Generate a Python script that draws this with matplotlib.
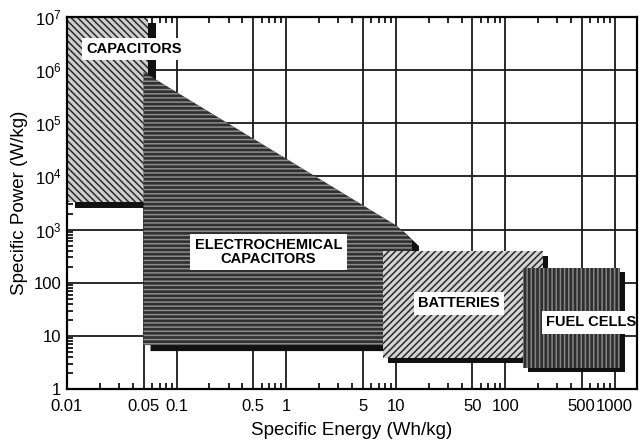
import numpy as np
import matplotlib
matplotlib.use("Agg")
import matplotlib.pyplot as plt
from matplotlib.patches import Polygon
from matplotlib.transforms import ScaledTranslation
from matplotlib.ticker import FixedLocator, LogLocator, NullFormatter

plt.rcParams['font.family'] = ['Liberation Sans', 'DejaVu Sans']
plt.rcParams['hatch.linewidth'] = 1.1

# regions of the Ragone plot (specific energy in Wh/kg, specific power in W/kg)
cap_energy = [0.01, 0.055]
cap_power = [3300, 1e7]

ec_energy = [0.05, 10.3, 14.1, 14.1, 0.05]
ec_power = [9.2e5, 1170, 635, 6.7, 6.7]

bat_energy = [7.7, 222]
bat_power = [3.8, 395]

fc_energy = [146, 1120]
fc_power = [2.5, 189]

x_ticks = [0.01, 0.05, 0.1, 0.5, 1, 5, 10, 50, 100, 500, 1000]
x_labels = ["0.01", "0.05", "0.1", "0.5", "1", "5", "10", "50", "100", "500", "1000"]
y_ticks = [1, 10, 100, 1e3, 1e4, 1e5, 1e6, 1e7]
y_labels = ["1", "10", "100", r"$\mathregular{10^3}$", r"$\mathregular{10^4}$",
            r"$\mathregular{10^5}$", r"$\mathregular{10^6}$", r"$\mathregular{10^7}$"]

# label text and where it sits (energy, power)
labels = ["CAPACITORS", "ELECTROCHEMICAL\nCAPACITORS", "BATTERIES", "FUEL CELLS"]
label_x = [0.041, 0.69, 38, 615]
label_y = [2.5e6, 380, 41, 18]

fig = plt.figure(figsize=(6.41, 4.41), dpi=100)
ax = fig.add_axes([0.1045, 0.1179, 0.8893, 0.8436])
ax.set_xscale('log')
ax.set_yscale('log')
ax.set_xlim(0.01, 1600)
ax.set_ylim(1, 1e7)

# grid drawn underneath the regions
for xv in x_ticks[1:]:
    ax.axvline(xv, color='#1a1a1a', lw=1.3, zorder=1)
for yv in y_ticks[1:-1]:
    ax.axhline(yv, color='#1a1a1a', lw=1.3, zorder=1)


def shadow(dx, dy):
    return ax.transData + ScaledTranslation(dx / 100, -dy / 100, fig.dpi_scale_trans)


def box(xs, ys):
    return [(xs[0], ys[0]), (xs[1], ys[0]), (xs[1], ys[1]), (xs[0], ys[1])]


cap_xy = box(cap_energy, cap_power)
ec_xy = list(zip(ec_energy, ec_power))
bat_xy = box(bat_energy, bat_power)
fc_xy = box(fc_energy, fc_power)

regions = [
    (cap_xy, (8, 6), dict(facecolor='#cfcfcf', edgecolor='#2a2a2a', hatch='\\' * 5)),
    (ec_xy, (7, 6), dict(facecolor='#303030', edgecolor='#8c8c8c', hatch='-' * 4)),
    (bat_xy, (5, 5), dict(facecolor='#d4d4d4', edgecolor='#2a2a2a', hatch='/' * 5)),
    (fc_xy, (5, 4), dict(facecolor='#2e2e2e', edgecolor='#858585', hatch='|' * 4)),
]

z = 2
for xy, (dx, dy), style in regions:
    ax.add_patch(Polygon(xy, closed=True, facecolor='#111111', edgecolor='none',
                         transform=shadow(dx, dy), zorder=z))
    ax.add_patch(Polygon(xy, closed=True, linewidth=0, zorder=z + 1, **style))
    z += 2

for text, lx, ly in zip(labels, label_x, label_y):
    ax.text(lx, ly, text, ha='center', va='center', fontsize=10.5, fontweight='bold',
            linespacing=1.0, zorder=20, clip_on=False,
            bbox=dict(boxstyle='square,pad=0.3', facecolor='white', edgecolor='none'))

ax.xaxis.set_major_locator(FixedLocator(x_ticks))
ax.set_xticklabels(x_labels)
ax.xaxis.set_minor_locator(LogLocator(base=10, subs=[2, 3, 4, 6, 7, 8, 9]))
ax.xaxis.set_minor_formatter(NullFormatter())
ax.yaxis.set_major_locator(FixedLocator(y_ticks))
ax.set_yticklabels(y_labels)
ax.yaxis.set_minor_locator(LogLocator(base=10, subs=np.arange(2, 10)))
ax.yaxis.set_minor_formatter(NullFormatter())

ax.tick_params(which='both', direction='in', top=True, right=False, labelsize=12)
ax.tick_params(which='major', length=0, pad=7)
ax.tick_params(axis='y', which='major', pad=4)
ax.tick_params(which='minor', length=4, width=1.2)

for sp in ax.spines.values():
    sp.set_linewidth(1.6)
    sp.set_zorder(25)

ax.set_xlabel("Specific Energy (Wh/kg)", fontsize=13.5, labelpad=6)
ax.set_ylabel("Specific Power (W/kg)", fontsize=13.5, labelpad=4)

fig.savefig("out.png", dpi=100)
